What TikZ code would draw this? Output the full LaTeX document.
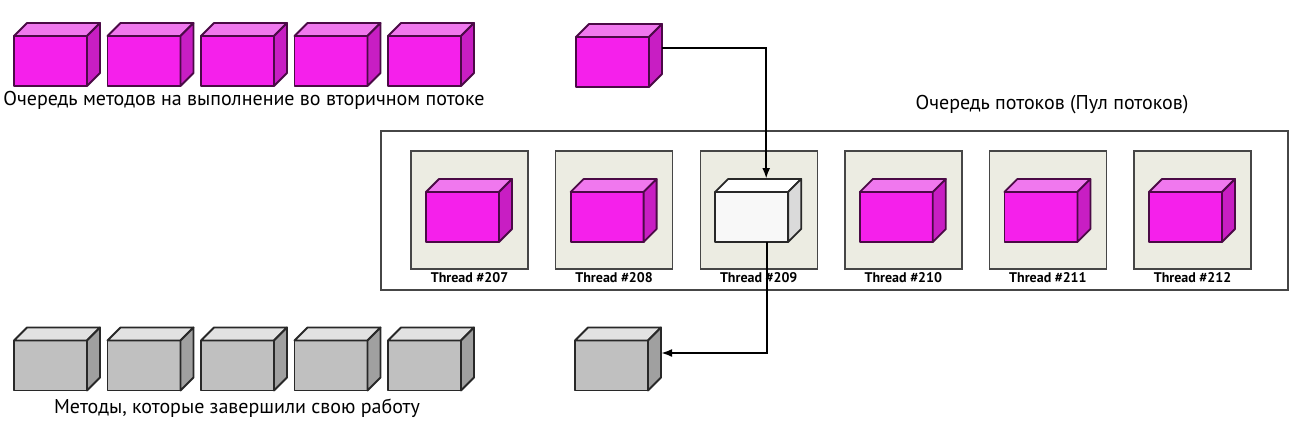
\documentclass[tikz,border=0pt]{standalone}
\usepackage{fontspec}
\setmainfont{PT Sans}
\usepackage{xcolor}
\usepackage{tikz}
\usetikzlibrary{arrows.meta, positioning, calc}
\definecolor{magfront}{RGB}{245, 32, 235}
\definecolor{magtop}{RGB}{240, 120, 238}
\definecolor{magside}{RGB}{200, 30, 195}
\definecolor{magedge}{RGB}{75, 10, 70}
\definecolor{grayfront}{RGB}{192, 192, 192}
\definecolor{graytop}{RGB}{226, 226, 226}
\definecolor{grayside}{RGB}{160, 160, 160}
\definecolor{grayedge}{RGB}{40, 40, 40}
\definecolor{whitefront}{RGB}{248, 248, 248}
\definecolor{whitetop}{RGB}{255, 255, 255}
\definecolor{whiteside}{RGB}{218, 218, 218}
\definecolor{whiteedge}{RGB}{40, 40, 40}
\definecolor{threadfill}{RGB}{236, 236, 226}
\definecolor{frameline}{RGB}{70, 70, 70}

% cube: name, x, y of the front face centre, colour set
\newcommand{\cube}[4]{%
  \node[cubefront, draw=#4edge, fill=#4front] (#1) at (#2,#3) {};
  \filldraw[cubeface, draw=#4edge, fill=#4top] (#1.north west) -- ++(13,-13)
    -- ([shift={(13,-13)}]#1.north east) -- (#1.north east) -- cycle;
  \filldraw[cubeface, draw=#4edge, fill=#4side] (#1.north east) -- ++(13,-13)
    -- ([shift={(13,-13)}]#1.south east) -- (#1.south east) -- cycle;
}

\begin{document}
\begin{tikzpicture}[x=1pt, y=-1pt,
    cubefront/.style={rectangle, minimum width=73pt, minimum height=50pt,
      inner sep=0pt, outer sep=0pt, line width=1.8pt, line join=round},
    cubeface/.style={line width=1.8pt, line join=round},
    threadbox/.style={rectangle, draw=frameline, fill=threadfill, line width=1.4pt,
      minimum width=117pt, minimum height=118pt, inner sep=0pt, outer sep=0pt},
    threadlabel/.style={font=\fontsize{14}{16}\selectfont\bfseries, inner sep=0pt},
    caption/.style={font=\fontsize{20}{24}\selectfont, inner sep=0pt},
    flow/.style={line width=2.2pt, -{Latex[length=11pt, width=8pt]}}]
        \useasboundingbox (0,0) rectangle (1308,431);

        % Queue of methods waiting
        \cube{w1}{50.5}{61}{mag}
        \cube{w2}{144}{61}{mag}
        \cube{w3}{237.5}{61}{mag}
        \cube{w4}{331}{61}{mag}
        \cube{w5}{424.5}{61}{mag}
        \node[caption] (waitlbl) at (244,100) {Очередь методов на выполнение во вторичном потоке};

        % Next method
        \cube{next}{612.5}{62}{mag}

        % Thread pool
        \node[rectangle, draw=frameline, line width=2.2pt, minimum width=907pt,
          minimum height=159pt, inner sep=0pt] (pool) at (834.5,210.5) {};
        \node[caption] (poollbl) at (1052,105) {Очередь потоков (Пул потоков)};

        \node[threadbox] (t207) at (469.5,210) {};
        \node[threadbox] (t208) at (614.1,210) {};
        \node[threadbox] (t209) at (758.7,210) {};
        \node[threadbox] (t210) at (903.3,210) {};
        \node[threadbox] (t211) at (1047.9,210) {};
        \node[threadbox] (t212) at (1192.5,210) {};

        \node[threadlabel, below=3pt of t207] (l207) {Thread \#207};
        \node[threadlabel, below=3pt of t208] (l208) {Thread \#208};
        \node[threadlabel, below=3pt of t209] (l209) {Thread \#209};
        \node[threadlabel, below=3pt of t210] (l210) {Thread \#210};
        \node[threadlabel, below=3pt of t211] (l211) {Thread \#211};
        \node[threadlabel, below=3pt of t212] (l212) {Thread \#212};

        \cube{c207}{462.5}{217}{mag}
        \cube{c208}{607.1}{217}{mag}
        \cube{c209}{751.7}{217}{white}
        \cube{c210}{896.3}{217}{mag}
        \cube{c211}{1040.9}{217}{mag}
        \cube{c212}{1185.5}{217}{mag}

        % Finished methods
        \cube{d1}{50.5}{365.5}{gray}
        \cube{d2}{144}{365.5}{gray}
        \cube{d3}{237.5}{365.5}{gray}
        \cube{d4}{331}{365.5}{gray}
        \cube{d5}{424.5}{365.5}{gray}
        \node[caption] (donelbl) at (237,408) {Методы, которые завершили свою работу};

        \cube{done}{611.5}{365.5}{gray}

        % Flow through the pool
        \draw[flow] ([shift={(13,-14)}]next.east) -| ([shift={(51,-13)}]c209.north west);
        \draw[flow] ([xshift=15pt]c209.south) |- ([shift={(13,-12.5)}]done.east);
      \end{tikzpicture}
\end{document}
